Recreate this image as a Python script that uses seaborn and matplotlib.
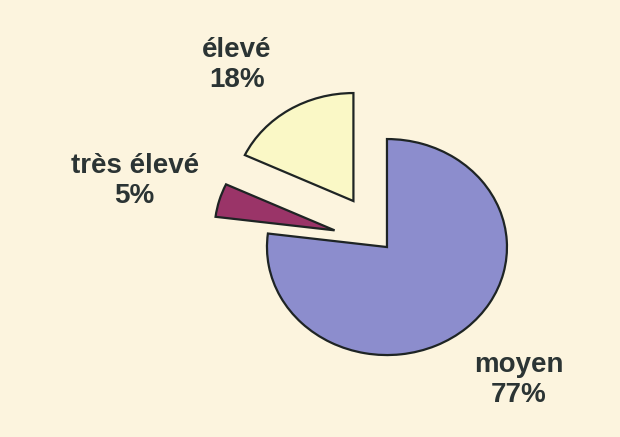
import matplotlib.pyplot as plt
import seaborn as sns

# data
categories = ['moyen', 'très élevé', 'élevé']
shares = [77, 5, 18]
colors = ['#8C8DCD', '#9A3468', '#FAF8C6']
explode = [0.05, 0.42, 0.46]

# label centres (data units, pie radius = 1)
label_pos = [(1.13, -1.27), (-2.07, 0.57), (-1.22, 1.65)]

BG = '#FCF4DE'

sns.set_theme(style='white')
plt.rcParams['font.family'] = ['Liberation Sans', 'DejaVu Sans']

fig = plt.figure(figsize=(6.2, 4.37), dpi=100)
fig.patch.set_facecolor(BG)
ax = fig.add_axes([0, 0, 1, 1])
ax.set_facecolor(BG)

wedges, _ = ax.pie(shares, colors=colors, explode=explode, startangle=90,
                   counterclock=False,
                   wedgeprops=dict(edgecolor='#1e2424', linewidth=1.6))

# the original pie is slightly squashed vertically
ax.set_aspect('auto')
ax.set_xlim(-383 / 120, 237 / 120)
ax.set_ylim(-194 / 108, 243 / 108)
ax.axis('off')

for name, pct, (x, y) in zip(categories, shares, label_pos):
    ax.text(x, y, f'{name}\n{pct}%', ha='center', va='center', fontsize=20,
            fontweight='bold', color='#2b3434', linespacing=1.2)

fig.savefig('out.png', dpi=100, facecolor=BG)
